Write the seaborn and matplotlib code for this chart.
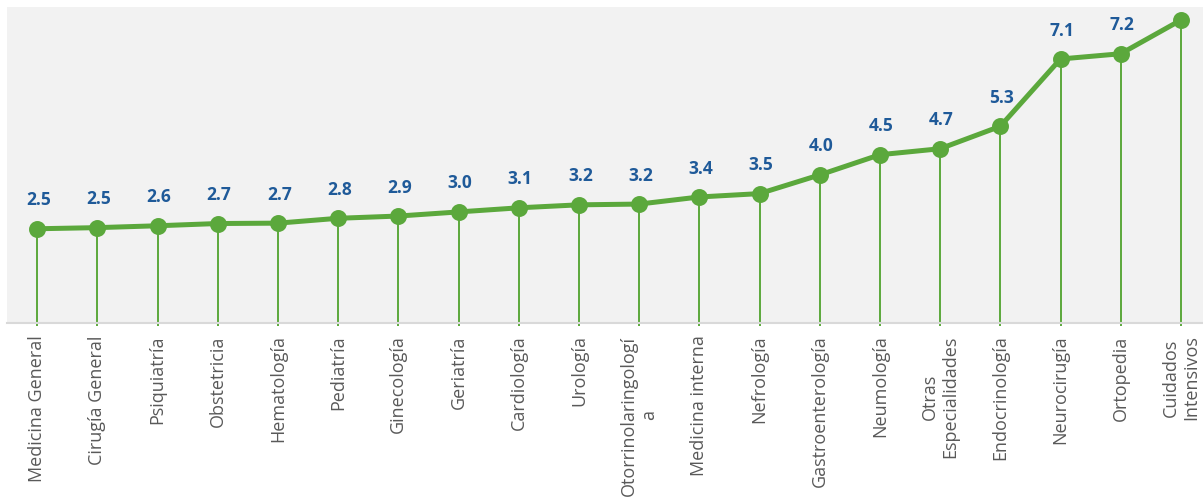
import numpy as np
import matplotlib
matplotlib.use("Agg")
import matplotlib.pyplot as plt
import seaborn as sns

# Data
especialidades = [
    "Medicina General", "Cirugía General", "Psiquiatría", "Obstetricia",
    "Hematología", "Pediatría", "Ginecología", "Geriatría", "Cardiología",
    "Urología", "Otorrinolaringologí\na", "Medicina interna", "Nefrología",
    "Gastroenterología", "Neumología", "Otras\nEspecialidades",
    "Endocrinología", "Neurocirugía", "Ortopedia", "Cuidados\nIntensivos",
]
valores = [2.52, 2.55, 2.6, 2.66, 2.67, 2.8, 2.86, 2.97, 3.08, 3.16,
           3.18, 3.37, 3.46, 3.96, 4.5, 4.66, 5.26, 7.06, 7.2, 8.1]

verde = "#5BA83C"
azul = "#1F5A99"
gris_texto = "#595959"
y_max = 8.45

sns.set_style("white")
plt.rcParams["font.family"] = ["Open Sans", "DejaVu Sans"]

fig = plt.figure(figsize=(12.03, 5.01), dpi=100)
W, H = 1203, 501
ax = fig.add_axes([7 / W, (H - 323) / H, 1204 / W, 316 / H])
ax.set_facecolor("#F2F2F2")

pos = np.arange(len(especialidades))

# drop lines down to the baseline
ax.vlines(pos, -0.08, valores, color=verde, linewidth=1.4, zorder=2,
          clip_on=False)

sns.pointplot(x=pos, y=valores, color=verde, markers="o", linestyles="-",
              linewidth=3.6, markersize=9.5, ax=ax, zorder=3)

# value labels; the top one would sit above the plot area, so the original hides it
for x, v in zip(pos, valores):
    if v + 0.6 > y_max:
        continue
    ax.annotate(f"{v:.1f}", (x, v), xytext=(1, 14), textcoords="offset points",
                ha="center", va="bottom", fontsize=12.5, fontweight="bold",
                color=azul)

ax.set_xlim(-0.5, len(especialidades) - 0.5)
ax.set_ylim(0, y_max)
ax.set_yticks([])
ax.set_xticks(pos)
ax.set_xticklabels(especialidades, rotation=90, fontsize=13,
                   color=gris_texto, ha="center", va="top",
                   multialignment="center")
ax.tick_params(axis="x", length=0, pad=9)
ax.set_xlabel("")
ax.set_ylabel("")

for side in ["top", "right", "left"]:
    ax.spines[side].set_visible(False)
ax.spines["bottom"].set_color("#D9D9D9")
ax.spines["bottom"].set_linewidth(1.5)

fig.savefig("out.png", dpi=100, facecolor="white")
